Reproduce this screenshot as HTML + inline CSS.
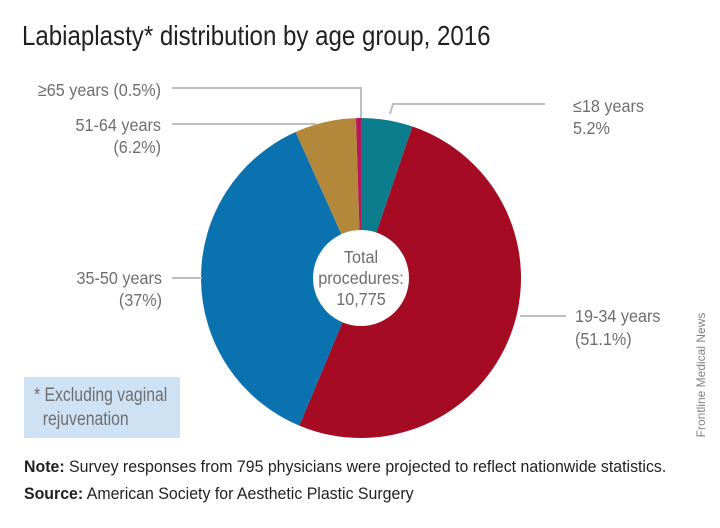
<!DOCTYPE html>
<html><head><meta charset="utf-8"><style>
body{margin:0;width:720px;height:528px;background:#fff;overflow:hidden;position:relative;font-family:"Liberation Sans",sans-serif}
.t{position:absolute;white-space:nowrap;transform-origin:0 0}
</style></head><body>
<div class="t" style="left:22px;top:20px;font-size:28px;color:#231f20;transform:scaleX(0.86)">Labiaplasty* distribution by age group, 2016</div>
<svg id="pie" width="720" height="528" style="position:absolute;left:0;top:0"></svg>
<div style="position:absolute;left:24px;top:377px;width:156px;height:61px;background:#cfe2f3"></div>
<div class="t" style="left:34px;top:384px;font-size:19px;color:#6d6e71;line-height:24px;transform:scaleX(0.83)">* Excluding vaginal<br>&nbsp;&nbsp;rejuvenation</div>
<div class="t" style="left:24px;top:457px;font-size:17px;color:#231f20;transform:scaleX(0.935)"><b>Note:</b> Survey responses from 795 physicians were projected to reflect nationwide statistics.</div>
<div class="t" style="left:24px;top:484px;font-size:17px;color:#231f20;transform:scaleX(0.935)"><b>Source:</b> American Society for Aesthetic Plastic Surgery</div>
<div class="t" style="left:636px;top:368px;font-size:12px;color:#808285;transform:rotate(-90deg);transform-origin:center;width:130px;text-align:center">Frontline Medical News</div>
<script>
const categories=["≤18 years","19-34 years","35-50 years","51-64 years","≥65 years"];
const values=[5.2,51.1,37,6.2,0.5];
const colors=["#0b7d8c","#a50b22","#0b72b0","#b4883b","#b8165a"];
const svg=document.getElementById('pie');
const NS="http://www.w3.org/2000/svg";
const cx=361,cy=278,r=160,ri=48;
const total=values.reduce((a,b)=>a+b,0);
let a0=0;
values.forEach((v,i)=>{
  const a1=a0+v/total*2*Math.PI;
  const x0=cx+r*Math.sin(a0),y0=cy-r*Math.cos(a0),x1=cx+r*Math.sin(a1),y1=cy-r*Math.cos(a1);
  const p=document.createElementNS(NS,'path');
  p.setAttribute('d',`M${cx},${cy}L${x0},${y0}A${r},${r} 0 ${a1-a0>Math.PI?1:0} 1 ${x1},${y1}Z`);
  p.setAttribute('fill',colors[i]);
  
  
  svg.appendChild(p);
  a0=a1;
});
const c=document.createElementNS(NS,'circle');
c.setAttribute('cx',cx);c.setAttribute('cy',cy);c.setAttribute('r',ri);c.setAttribute('fill','#fff');


svg.appendChild(c);
const lines=[[[361,118],[361,88],[172,88]],[[316,124],[172,124]],[[390,114],[393,104],[545,104]],[[172,278],[202,278]],[[520,316],[566,316]]];
lines.forEach((l,i)=>{
  const pl=document.createElementNS(NS,'polyline');
  pl.setAttribute('points',l.map(p=>p.join(',')).join(' '));
  pl.setAttribute('fill','none');pl.setAttribute('stroke','#bcbec0');pl.setAttribute('stroke-width','2');
  
  
  svg.appendChild(pl);
});
const labels=[["≥65 years (0.5%)",161,96,"end"],["51-64 years",161,131,"end"],["(6.2%)",161,153,"end"],["≤18 years",573,112,"start"],["5.2%",573,134,"start"],["35-50 years",162,284,"end"],["(37%)",162,306,"end"],["19-34 years",575,322,"start"],["(51.1%)",575,345,"start"],["Total",361,263,"middle"],["procedures:",361,284,"middle"],["10,775",361,305,"middle"]];
labels.forEach((l,i)=>{
  const t=document.createElementNS(NS,'text');
  t.setAttribute('x',0);t.setAttribute('y',0);t.setAttribute('text-anchor',l[3]);
  t.setAttribute('transform',`translate(${l[1]},${l[2]}) scale(0.9,1)`);
  t.setAttribute('font-size','18');t.setAttribute('fill','#6d6e71');
  t.setAttribute('font-family','"Liberation Sans",sans-serif');
  t.textContent=l[0];
  
  
  svg.appendChild(t);
});
</script>
</body></html>
